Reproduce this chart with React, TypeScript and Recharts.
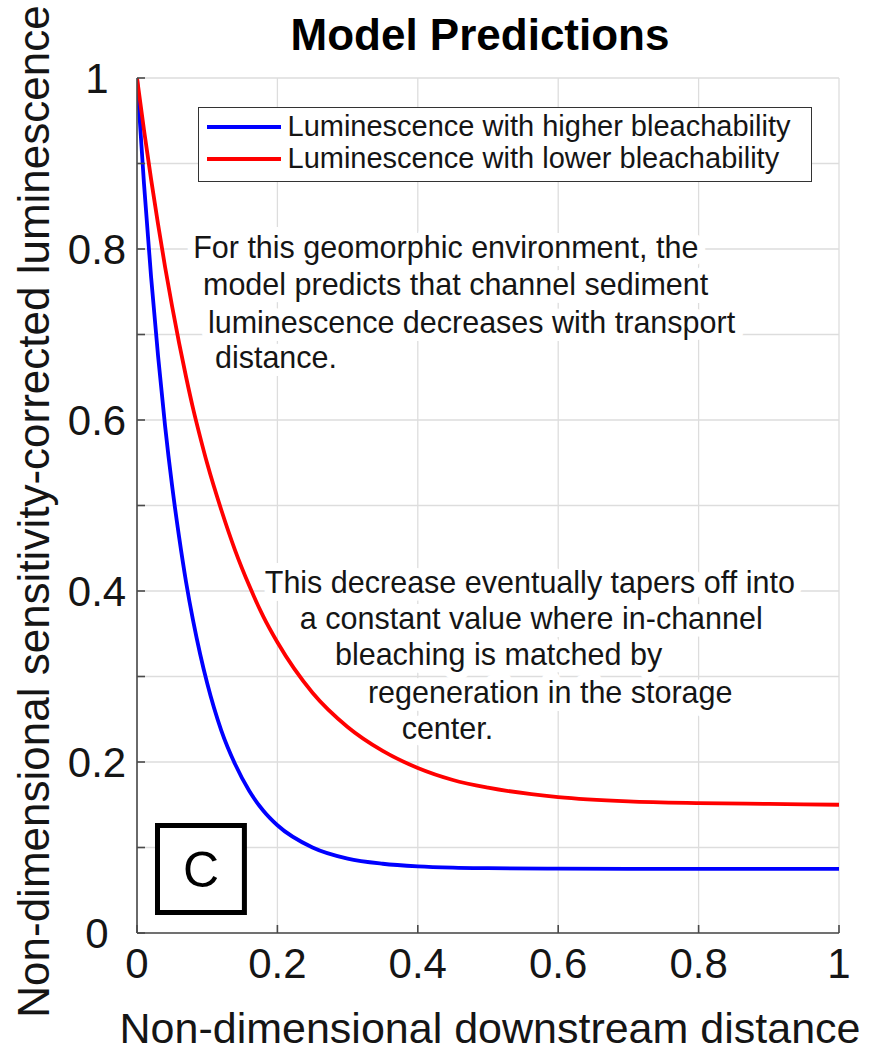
import React from 'react';
import {
  LineChart,
  Line,
  XAxis,
  YAxis,
  CartesianGrid,
  ReferenceDot,
  ReferenceArea,
  Legend,
} from 'recharts';

const FONT = '"Liberation Sans", Arial, Helvetica, sans-serif';
const AXIS_COLOR = '#4a4a4a';
const GRID_COLOR = '#dddddd';
const TEXT_COLOR = '#151515';

// ---- data ----
const distance = [0, 0.01, 0.02, 0.03, 0.04, 0.05, 0.06, 0.07, 0.08, 0.09, 0.1, 0.12, 0.14, 0.16, 0.18, 0.2, 0.25, 0.3, 0.35, 0.4, 0.45, 0.5, 0.6, 0.7, 0.8, 0.9, 1.0];
const higherBleach = [1, 0.876, 0.768, 0.675, 0.593, 0.523, 0.463, 0.41, 0.365, 0.326, 0.292, 0.237, 0.197, 0.166, 0.143, 0.126, 0.1, 0.087, 0.081, 0.078, 0.0765, 0.0758, 0.0752, 0.075, 0.075, 0.075, 0.075];
const lowerBleach = [1, 0.939, 0.882, 0.829, 0.779, 0.733, 0.69, 0.65, 0.613, 0.58, 0.549, 0.495, 0.447, 0.406, 0.37, 0.34, 0.281, 0.241, 0.213, 0.193, 0.179, 0.17, 0.159, 0.154, 0.152, 0.151, 0.15];

const seriesNames = ['Luminescence with higher bleachability', 'Luminescence with lower bleachability'];
const seriesColors = ['#0000ff', '#ff0000'];

const xTicks = [0, 0.2, 0.4, 0.6, 0.8, 1];
const xTickLabels = ['0', '0.2', '0.4', '0.6', '0.8', '1'];
const yTicks = [0, 0.1, 0.2, 0.3, 0.4, 0.5, 0.6, 0.7, 0.8, 0.9, 1];
const yTickLabels = ['0', '', '0.2', '', '0.4', '', '0.6', '', '0.8', '', '1'];

const titleText = 'Model Predictions';
const xTitle = 'Non-dimensional downstream distance';
const yTitle = 'Non-dimensional sensitivity-corrected luminescence';

// annotation lines: left start (x) and vertical centre (y) in data units
const noteLines = [
  { x: 0.08, y: 0.802, text: 'For this geomorphic environment, the' },
  { x: 0.094, y: 0.759, text: 'model predicts that channel sediment' },
  { x: 0.101, y: 0.715, text: 'luminescence decreases with transport' },
  { x: 0.111, y: 0.674, text: 'distance.' },
  { x: 0.182, y: 0.411, text: 'This decrease eventually tapers off into' },
  { x: 0.232, y: 0.368, text: 'a constant value where in-channel' },
  { x: 0.282, y: 0.326, text: 'bleaching is matched by' },
  { x: 0.329, y: 0.282, text: 'regeneration in the storage' },
  { x: 0.377, y: 0.24, text: 'center.' },
];

const panelBox = { x1: 0.0292, x2: 0.153, y1: 0.024, y2: 0.1257, label: 'C' };

const data = distance.map((d, i) => ({
  d,
  higher: higherBleach[i],
  lower: lowerBleach[i],
}));

// ---- renderers ----
function XTick(props: any) {
  const { x, y, payload } = props;
  const idx = xTicks.indexOf(payload.value);
  return (
    <g>
      <line x1={x} x2={x} y1={y} y2={y - 8} stroke={AXIS_COLOR} strokeWidth={1.6} />
      <text x={x} y={y + 45} textAnchor="middle" fontSize={42} fontFamily={FONT} fill={TEXT_COLOR}>
        {idx >= 0 ? xTickLabels[idx] : ''}
      </text>
    </g>
  );
}

function YTick(props: any) {
  const { x, y, payload } = props;
  const idx = yTicks.indexOf(payload.value);
  const label = idx >= 0 ? yTickLabels[idx] : '';
  return (
    <g>
      <line x1={x} x2={x + 8} y1={y} y2={y} stroke={AXIS_COLOR} strokeWidth={1.6} />
      {label ? (
        <text x={x - 40} y={y} dy="0.36em" textAnchor="middle" fontSize={42} fontFamily={FONT} fill={TEXT_COLOR}>
          {label}
        </text>
      ) : null}
    </g>
  );
}

function XTitle(props: any) {
  const vb = props.viewBox || { x: 137, y: 933, width: 702, height: 120 };
  return (
    <text x={vb.x + 353} y={vb.y + 110} textAnchor="middle" fontSize={43} fontFamily={FONT} fill={TEXT_COLOR}>
      {xTitle}
    </text>
  );
}

function YTitle(props: any) {
  const vb = props.viewBox || { x: 0, y: 78, width: 137, height: 855 };
  const cx = vb.x + 33;
  const cy = vb.y + vb.height / 2 + 6;
  return (
    <text
      transform={`translate(${cx}, ${cy}) rotate(-90)`}
      x={0}
      y={0}
      dy="0.36em"
      textAnchor="middle"
      fontSize={44}
      fontFamily={FONT}
      fill={TEXT_COLOR}
    >
      {yTitle}
    </text>
  );
}

function NoteText(props: any) {
  const { cx, cy, text } = props;
  return (
    <text
      x={cx}
      y={cy}
      dy="0.36em"
      fontSize={30.5}
      fontFamily={FONT}
      fill={TEXT_COLOR}
      stroke="#ffffff"
      strokeWidth={16}
      strokeLinejoin="round"
      paintOrder="stroke"
    >
      {text}
    </text>
  );
}

function LegendBox(props: any) {
  const payload = props.payload || [];
  return (
    <div
      style={{
        width: 614,
        height: 75,
        boxSizing: 'border-box',
        border: `1.5px solid #333`,
        background: '#fff',
        position: 'relative',
        fontFamily: FONT,
        fontSize: 29,
        color: TEXT_COLOR,
      }}
    >
      {payload.map((p: any, i: number) => (
        <div
          key={i}
          style={{
            position: 'absolute',
            left: 7.5,
            top: 2.5 + i * 32,
            height: 32,
            display: 'flex',
            alignItems: 'center',
            whiteSpace: 'nowrap',
          }}
        >
          <span style={{ display: 'inline-block', width: 74, height: 0, borderTop: `4px solid ${p.color}`, marginRight: 7 }} />
          <span>{p.value}</span>
        </div>
      ))}
    </div>
  );
}

export default function App() {
  return (
    <div style={{ position: 'absolute', left: 0, top: 0, width: 878, height: 1053, background: '#fff' }}>
      <LineChart width={878} height={1053} data={data} margin={{ top: 78, right: 39, bottom: 0, left: 0 }}>
        <CartesianGrid stroke={GRID_COLOR} strokeWidth={1.3} />
        <XAxis
          dataKey="d"
          type="number"
          domain={[0, 1]}
          ticks={xTicks}
          interval={0}
          height={120}
          tickSize={0}
          tickMargin={0}
          tickLine={false}
          axisLine={{ stroke: AXIS_COLOR, strokeWidth: 1.6 }}
          tick={(p: any) => <XTick {...p} />}
          label={{ content: (p: any) => <XTitle {...p} /> }}
          allowDataOverflow
        />
        <YAxis
          type="number"
          domain={[0, 1]}
          ticks={yTicks}
          interval={0}
          width={137}
          tickSize={0}
          tickMargin={0}
          tickLine={false}
          axisLine={{ stroke: AXIS_COLOR, strokeWidth: 1.6 }}
          tick={(p: any) => <YTick {...p} />}
          label={{ content: (p: any) => <YTitle {...p} /> }}
          allowDataOverflow
        />
        <ReferenceArea
          x1={panelBox.x1}
          x2={panelBox.x2}
          y1={panelBox.y1}
          y2={panelBox.y2}
          fill="#ffffff"
          fillOpacity={1}
          stroke="#000000"
          strokeWidth={5}
          ifOverflow="visible"
          label={{ value: panelBox.label, position: 'center', fontSize: 50, fill: '#000', fontFamily: FONT }}
        />
        {noteLines.map((n, i) => (
          <ReferenceDot
            key={i}
            x={n.x}
            y={n.y}
            r={0}
            ifOverflow="visible"
            shape={(p: any) => <NoteText cx={p.cx} cy={p.cy} text={n.text} />}
          />
        ))}
        <Line
          type="monotone"
          dataKey="higher"
          name={seriesNames[0]}
          stroke={seriesColors[0]}
          strokeWidth={3.8}
          dot={false}
          activeDot={false}
          isAnimationActive={false}
        />
        <Line
          type="monotone"
          dataKey="lower"
          name={seriesNames[1]}
          stroke={seriesColors[1]}
          strokeWidth={3.8}
          dot={false}
          activeDot={false}
          isAnimationActive={false}
        />
        <Legend
          layout="horizontal"
          verticalAlign="middle"
          align="center"
          wrapperStyle={{ left: 198, top: 107, width: 614, height: 75 }}
          content={(p: any) => <LegendBox {...p} />}
        />
        <text x={480} y={50} textAnchor="middle" fontSize={44} fontWeight="bold" fontFamily={FONT} fill="#000">
          {titleText}
        </text>
      </LineChart>
    </div>
  );
}
